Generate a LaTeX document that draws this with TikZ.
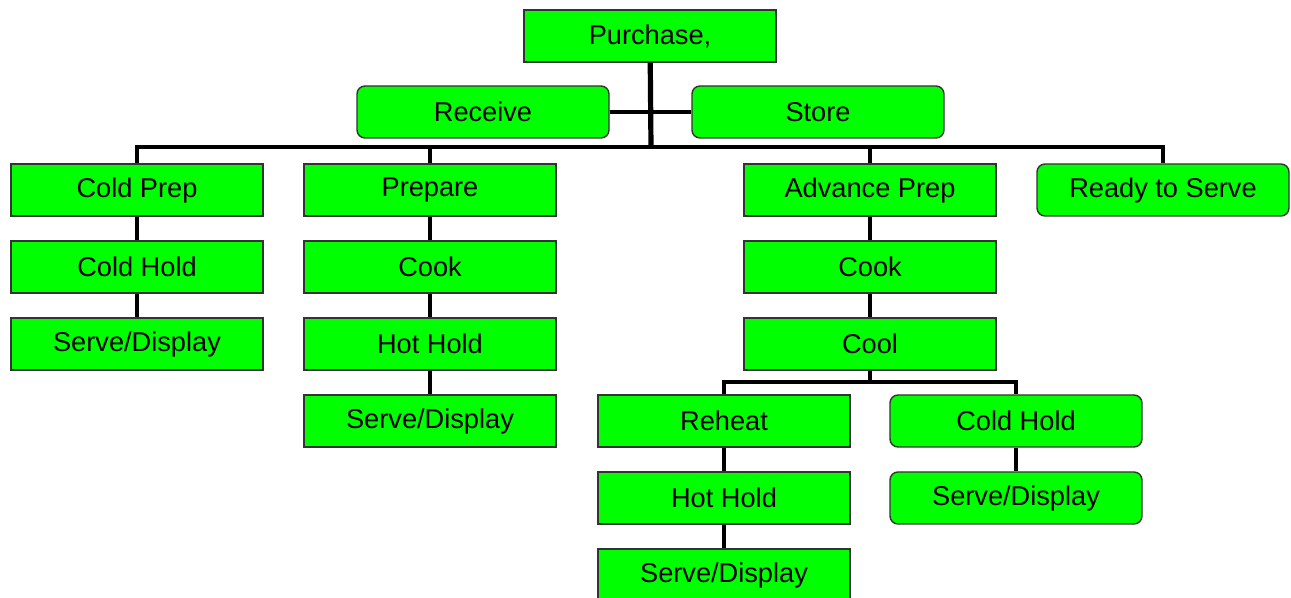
\documentclass[tikz,border=0pt]{standalone}
\usepackage{fontspec}
\setmainfont{Liberation Sans}
\begin{document}
\begin{tikzpicture}
      [
      x=0.5pt,y=-0.5pt,
      step box/.style={rectangle,draw=black!80,line width=0.7pt,fill=green,inner sep=0pt,minimum width=126pt,minimum height=26pt,font=\fontsize{13.6}{15}\selectfont},
      round box/.style={step box,rounded corners=4pt},
      bus/.style={line width=2.2pt},
      link/.style={line width=1.6pt}
      ]
      \useasboundingbox (0,0) rectangle (1291,598);
      \node (purchase) at (650,36) [step box] {Purchase,};
      \node (receive) at (483,112) [round box] {Receive};
      \node (store) at (818,112) [round box] {Store};
      \coordinate (bar) at (651,147);

      \node (coldprep) at (137,190) [step box] {Cold Prep};
      \node (coldhold) at (137,267) [step box] {Cold Hold};
      \node (serve1) at (137,344) [step box] {Serve/Display};

      \node (prepare) at (430,190) [step box] {Prepare};
      \node (cook1) at (430,267) [step box] {Cook};
      \node (hothold1) at (430,344) [step box] {Hot Hold};
      \node (serve2) at (430,421) [step box] {Serve/Display};

      \node (advprep) at (870,190) [step box] {Advance Prep};
      \node (cook2) at (870,267) [step box] {Cook};
      \node (cool) at (870,344) [step box] {Cool};
      \coordinate (split) at (870,382);
      \node (reheat) at (724,421) [step box] {Reheat};
      \node (hothold2) at (724,498) [step box] {Hot Hold};
      \node (serve3) at (724,575) [step box] {Serve/Display};
      \node (coldhold2) at (1016,421) [round box] {Cold Hold};
      \node (serve4) at (1016,498) [round box] {Serve/Display};

      \node (ready) at (1163,190) [round box] {Ready to Serve};

      % top of the tree
      \draw [bus,line width=2.6pt] (purchase) -- (bar);
      \draw [bus] (receive) -- (store);
      \draw [bus] (coldprep.north) |- (bar) -| (ready.north);
      \draw [bus] (prepare.north) -- (prepare.north |- bar);
      \draw [bus] (advprep.north) -- (advprep.north |- bar);

      % branches
      \draw [link] (coldprep) -- (coldhold);
      \draw [link] (coldhold) -- (serve1);
      \draw [link] (prepare) -- (cook1);
      \draw [link] (cook1) -- (hothold1);
      \draw [link] (hothold1) -- (serve2);
      \draw [link] (advprep) -- (cook2);
      \draw [link] (cook2) -- (cool);
      \draw [link] (cool) -- (split);
      \draw [link] (reheat.north) |- (split) -| (coldhold2.north);
      \draw [link] (reheat) -- (hothold2);
      \draw [link] (hothold2) -- (serve3);
      \draw [link] (coldhold2) -- (serve4);
    \end{tikzpicture}
\end{document}
